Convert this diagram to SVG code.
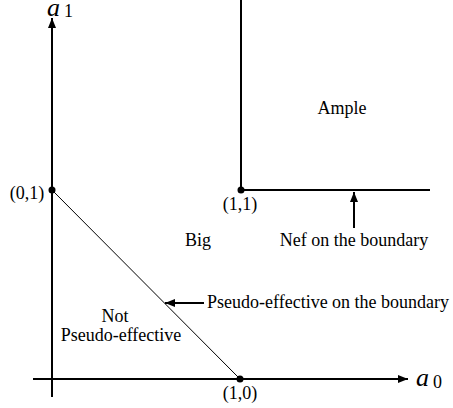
<svg xmlns="http://www.w3.org/2000/svg" width="453" height="408" viewBox="0 0 453 408">
<style>
.t{font-family:'Liberation Serif','DejaVu Serif',serif;font-size:18px;fill:#000}
.m{font-family:'Liberation Serif','DejaVu Serif',serif;font-style:italic;fill:#000}
.s{font-family:'Liberation Serif','DejaVu Serif',serif;fill:#000}
.thick{stroke:#000;stroke-width:2;fill:none}
.thin{stroke:#000;stroke-width:1;fill:none}
</style>
<defs>
<marker id="ah" viewBox="0 0 10 8" refX="10" refY="4" markerWidth="10" markerHeight="8" markerUnits="userSpaceOnUse" orient="auto">
<path d="M0,0 L10,4 L0,8 Z" fill="#000"/>
</marker>
</defs>
<g id="connectors">
<line class="thick" x1="52" y1="397" x2="52" y2="18" marker-end="url(#ah)"/>
<line class="thick" x1="33" y1="379" x2="408" y2="379" marker-end="url(#ah)"/>
<line class="thin" x1="52" y1="190" x2="240" y2="379"/>
<polyline class="thick" points="241,0 241,190 430,190"/>
<line class="thick" x1="354" y1="228" x2="354" y2="192" marker-end="url(#ah)"/>
<line class="thick" x1="204" y1="303" x2="165" y2="303" marker-end="url(#ah)"/>
</g>
<g id="axis-a1"><text class="m" x="47" y="16" font-size="26">a</text><text class="s" x="64" y="17" font-size="18">1</text></g>
<g id="axis-a0"><text class="m" x="416" y="386" font-size="26">a</text><text class="s" x="433" y="388" font-size="18">0</text></g>
<g id="p01"><circle cx="52" cy="190" r="3.5"/><text class="t" x="27" y="199" text-anchor="middle">(0,1)</text></g>
<g id="p10"><circle cx="240" cy="379" r="3.5"/><text class="t" x="240" y="399" text-anchor="middle">(1,0)</text></g>
<g id="p11"><circle cx="241" cy="190" r="3.5"/><text class="t" x="240" y="210" text-anchor="middle">(1,1)</text></g>
<g id="ample"><text class="t" x="342" y="114" text-anchor="middle">Ample</text></g>
<g id="big"><text class="t" x="198" y="246" text-anchor="middle">Big</text></g>
<g id="nef"><text class="t" x="354" y="246" text-anchor="middle">Nef on the boundary</text></g>
<g id="pseudo"><text class="t" x="207" y="308">Pseudo-effective on the boundary</text></g>
<g id="notpe"><text class="t" x="115" y="322" text-anchor="middle">Not</text><text class="t" x="121" y="341" text-anchor="middle">Pseudo-effective</text></g>
</svg>
